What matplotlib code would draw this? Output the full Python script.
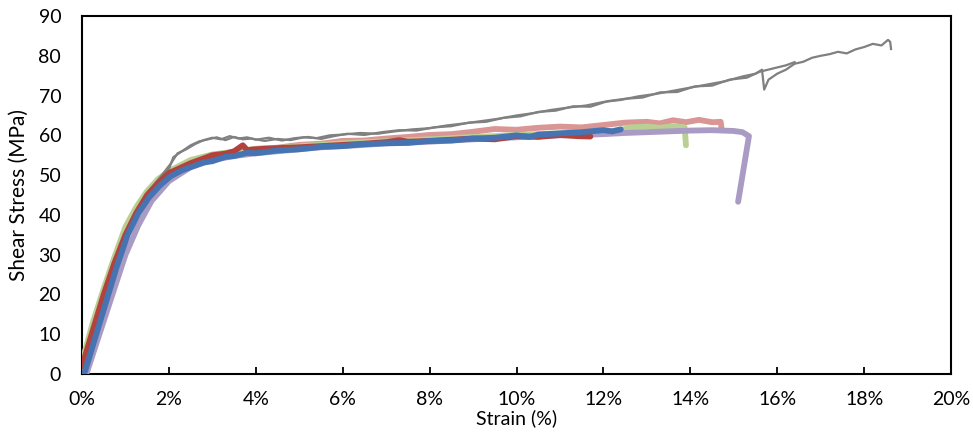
import matplotlib.pyplot as plt

# Strain (%) / Shear stress (MPa)
gris1_x = [0, 0.3, 0.6, 0.9, 1.2, 1.5, 1.8, 2.0, 2.1, 2.3, 2.5, 2.7, 2.9, 3.1, 3.3, 3.5,
           3.7, 3.9, 4.2, 4.5, 4.8, 5.1, 5.4, 5.7, 6.0, 6.4, 6.8, 7.2, 7.6, 8.0, 8.4, 8.8,
           9.2, 9.6, 10.0, 10.4, 10.8, 11.2, 11.6, 12.0, 12.4, 12.8, 13.2, 13.6, 14.0, 14.4,
           14.8, 15.2, 15.5, 15.65, 15.7, 15.8, 16.0, 16.2, 16.4, 16.6, 16.8, 17.0, 17.2,
           17.4, 17.6, 17.8, 18.0, 18.2, 18.4, 18.55, 18.6, 18.62]
gris1_y = [0, 11, 21, 31, 39, 45, 49, 51.5, 54.5, 56, 57.5, 58.5, 59, 59.5, 58.8, 59.6,
           59, 59.2, 58.6, 59.1, 58.8, 59.5, 59.3, 60, 60.2, 60.6, 60.4, 61, 61.5, 61.8, 62.5, 63,
           63.6, 64.2, 65, 65.6, 66.4, 67, 67.5, 68.4, 68.9, 69.8, 70.4, 71.2, 72, 72.8,
           73.6, 74.8, 75.5, 76.5, 71.5, 74, 75.5, 76.5, 78, 78.5, 79.5, 80, 80.4,
           81, 80.6, 81.6, 82.2, 83, 82.6, 84, 83.5, 81.7]

gris2_x = [0, 0.3, 0.6, 0.9, 1.2, 1.5, 1.8, 2.05, 2.2, 2.4, 2.6, 2.8, 3.0, 3.2, 3.4, 3.6,
           3.8, 4.0, 4.3, 4.6, 4.9, 5.2, 5.5, 5.8, 6.1, 6.5, 6.9, 7.3, 7.7, 8.1, 8.5, 8.9,
           9.3, 9.7, 10.1, 10.5, 10.9, 11.3, 11.7, 12.1, 12.5, 12.9, 13.3, 13.7, 14.1, 14.5,
           14.9, 15.3, 15.6, 15.9, 16.2, 16.4]
gris2_y = [0, 11.5, 22, 32, 40, 45.5, 49.5, 53, 55.5, 56.5, 57.8, 58.8, 59.4, 59, 59.8, 59.2,
           59.5, 58.9, 59.4, 58.7, 59.3, 59.6, 59.1, 59.8, 60.4, 60.1, 60.8, 61.3, 61.2, 62, 62.3, 63.2,
           63.4, 64.4, 64.8, 65.9, 66.2, 67.3, 67.2, 68.6, 69.2, 69.5, 70.8, 70.9, 72.3, 72.5,
           74, 74.5, 76, 76.8, 77.6, 78.4]

rosa_x = [0, 0.25, 0.5, 0.75, 1.0, 1.25, 1.5, 1.75, 2.0, 2.5, 3.0, 3.5, 4.0, 4.5, 5.0, 5.5,
          6.0, 6.5, 7.0, 7.5, 8.0, 8.5, 9.0, 9.5, 10.0, 10.5, 11.0, 11.5, 12.0, 12.5, 13.0,
          13.3, 13.6, 13.9, 14.2, 14.5, 14.7, 14.72]
rosa_y = [0, 10, 18.5, 28, 36, 41, 45, 48, 50, 53, 54.6, 55.6, 56.6, 56.9, 57.6, 57.9,
          58.6, 58.7, 59.2, 59.6, 60.1, 60.3, 60.9, 61.6, 61.4, 61.9, 62.2, 62.0, 62.6, 63.2, 63.4,
          63.0, 63.8, 63.3, 63.9, 63.3, 63.4, 61.5]

verde_x = [0, 0.25, 0.5, 0.75, 1.0, 1.25, 1.5, 1.75, 2.0, 2.5, 3.0, 3.5, 4.0, 4.5, 5.0, 5.5,
           6.0, 6.5, 7.0, 7.5, 8.0, 8.5, 9.0, 9.5, 10.0, 10.5, 11.0, 11.5, 12.0, 12.4, 12.6,
           13.0, 13.3, 13.6, 13.87, 13.9]
verde_y = [3, 13, 21.5, 29.5, 37, 42, 46, 49, 51, 53.8, 55.2, 55.9, 56.6, 56.8, 57.3, 57.6,
           58, 58.3, 58.5, 58.8, 59, 59.3, 59.6, 59.8, 60.1, 60.3, 60.5, 60.8, 61, 61.3, 62,
           62.2, 61.9, 62.3, 62, 57.5]

morado_x = [0.1, 0.4, 0.7, 1.0, 1.3, 1.6, 2.0, 2.5, 3.0, 3.5, 4.0, 4.5, 5.0, 5.5, 6.0, 6.5,
            7.0, 7.5, 8.0, 8.5, 9.0, 9.5, 10.0, 10.5, 11.0, 11.5, 12.0, 12.5, 13.0, 13.5,
            14.0, 14.5, 15.0, 15.2, 15.35, 15.1]
morado_y = [0, 10, 20, 30, 37.5, 43.5, 48.5, 52, 53.8, 54.8, 55.5, 56, 56.5, 57, 57.3, 57.6,
            58, 58.2, 58.4, 58.7, 59, 59.3, 59.5, 59.8, 60, 60.1, 60.3, 60.6, 60.8, 61,
            61.2, 61.3, 61.1, 60.8, 59.8, 43.3]

rojo_x = [0, 0.25, 0.5, 0.75, 1.0, 1.25, 1.5, 1.75, 2.0, 2.5, 3.0, 3.3, 3.5, 3.7, 3.8, 4.0,
          4.5, 5.0, 5.5, 6.0, 6.5, 7.0, 7.3, 7.5, 8.0, 8.5, 9.0, 9.5, 10.0, 10.5, 11.0, 11.4, 11.7]
rojo_y = [2, 11, 20, 28, 35, 40.5, 45, 48, 50.5, 53, 55, 55.4, 56, 57.5, 56.3, 56.5,
          56.8, 57, 57.3, 57.6, 57.9, 58.3, 58.8, 58.4, 58.6, 58.9, 59.2, 59.0, 59.8, 59.6, 60.1, 59.8, 59.7]

azul_x = [0.05, 0.3, 0.55, 0.8, 1.05, 1.3, 1.55, 1.8, 2.05, 2.3, 2.5, 2.8, 3.0, 3.3, 3.5, 3.8,
          4.0, 4.5, 5.0, 5.5, 6.0, 6.5, 7.0, 7.5, 8.0, 8.5, 9.0, 9.5, 10.0, 10.3, 10.5, 11.0,
          11.5, 12.0, 12.2, 12.4]
azul_y = [0, 9, 18, 27, 35, 40.5, 44.5, 47.5, 49.8, 51.2, 52, 53.2, 53.5, 54.6, 54.8, 55.6,
          55.5, 56.2, 56.5, 57.1, 57.3, 57.8, 58, 58.1, 58.6, 58.7, 59.2, 59.4, 60, 59.6, 60.2, 60.5,
          60.8, 61.3, 61.0, 61.5]

fig = plt.figure(figsize=(9.73, 4.34), dpi=100)
ax = fig.add_axes([0.0843, 0.1382, 0.8931, 0.8249])

gruesa = dict(lw=4.2, solid_capstyle="round", solid_joinstyle="round")
ax.plot(rosa_x, rosa_y, color="#D99694", zorder=2, **gruesa)
ax.plot(verde_x, verde_y, color="#B9CF93", zorder=3, **gruesa)
ax.plot(morado_x, morado_y, color="#A99BC3", zorder=4, **gruesa)
ax.plot(gris1_x, gris1_y, color="#808080", lw=1.6, zorder=5)
ax.plot(gris2_x, gris2_y, color="#808080", lw=1.6, zorder=5)
ax.plot(rojo_x, rojo_y, color="#B3423E", zorder=6, **gruesa)
ax.plot(azul_x, azul_y, color="#4674B2", zorder=7, **gruesa)

ax.set_xlim(0, 20)
ax.set_ylim(0, 90)
ax.set_xticks(range(0, 21, 2))
ax.set_xticklabels([f"{v}%" for v in range(0, 21, 2)])
ax.set_yticks(range(0, 91, 10))

fuente = ["Lato", "DejaVu Sans"]
for lbl in ax.get_xticklabels() + ax.get_yticklabels():
    lbl.set_family(fuente)
    lbl.set_fontsize(14)
ax.tick_params(axis="x", direction="in", length=5, width=1.3, pad=12)
ax.tick_params(axis="y", length=0, pad=15)
for s in ax.spines.values():
    s.set_linewidth(1.5)

ax.set_xlabel("Strain (%)", family=fuente, fontsize=14, labelpad=1)
ax.set_ylabel("Shear Stress (MPa)", family=fuente, fontsize=15, labelpad=7)

fig.savefig("out.png", dpi=100)
